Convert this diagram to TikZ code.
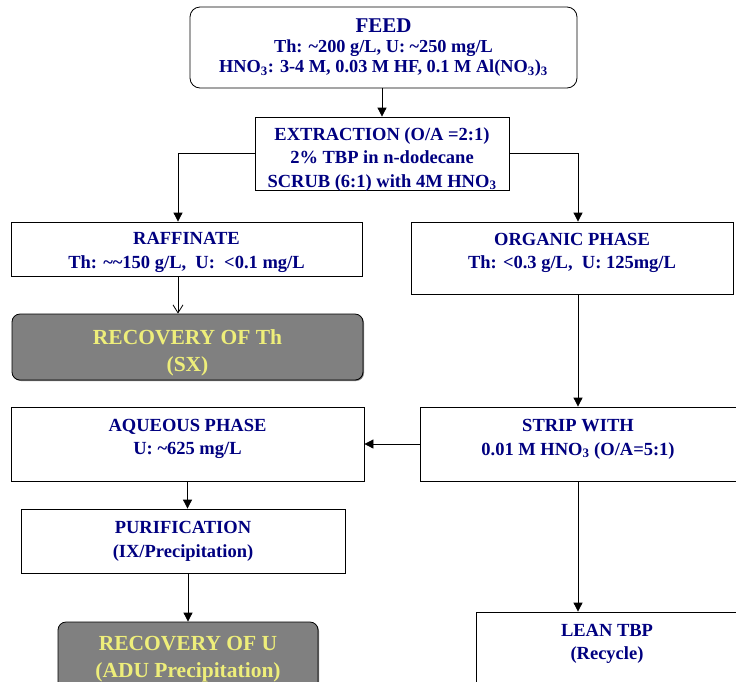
\documentclass[tikz,border=0pt]{standalone}
\usepackage{fontspec}
\setmainfont{Liberation Serif}
\usetikzlibrary{arrows.meta,shadows}
\definecolor{navy}{RGB}{0,0,128}
\definecolor{darkgrey}{RGB}{128,128,128}
\definecolor{paleyellow}{RGB}{238,238,122}

\begin{document}
\begin{tikzpicture}[x=1pt,y=-1pt,>={Triangle[length=9pt,width=9pt]},line width=0.8pt]

  \tikzstyle{box}=[rectangle,draw=black,fill=white,text=navy,align=center,inner sep=0pt,
                   font=\bfseries\fontsize{18.5}{23.5}\selectfont]
  \tikzstyle{round box}=[box,rounded corners=10pt]
  \tikzstyle{dark box}=[box,rounded corners=8pt,fill=darkgrey,
                        drop shadow={shadow xshift=1pt,shadow yshift=-1pt,fill=black}]
  \tikzstyle{top text}=[text=navy,align=center,anchor=center,inner sep=0pt,
                        font=\bfseries\fontsize{18.5}{23.5}\selectfont]
  \tikzstyle{dark text}=[top text,text=paleyellow,font=\bfseries\fontsize{21.5}{26.5}\selectfont]
  \tikzstyle{barb}=[-{Straight Barb[length=8pt,width=10pt]}]

  \useasboundingbox (0,0) rectangle (736,681);

  % feed and extraction
  \node [round box,minimum width=387pt,minimum height=81pt,
         font=\bfseries\fontsize{18.3}{20}\selectfont]
        (feed) at (383.5,47.5)
        {{\fontsize{21}{20}\selectfont FEED}\\
         Th: \textasciitilde200 g/L, U: \textasciitilde250 mg/L\\
         HNO\textsubscript{3}: 3-4 M, 0.03 M HF, 0.1 M Al(NO\textsubscript{3})\textsubscript{3}};
  \node [box,minimum width=254pt,minimum height=73pt,
         label={[top text,yshift=-42.5pt]north:{EXTRACTION (O/A =2:1)\\
           2\% TBP in n-dodecane\\
           SCRUB (6:1) with 4M HNO\textsubscript{3}}}]
        (extract) at (382,153.5) {};

  % thorium side
  \node [box,minimum width=351pt,minimum height=54pt,
         label={[top text,yshift=-31pt]north:{RAFFINATE\\
           Th: \textasciitilde\textasciitilde150 g/L,\ \ U:\ \ <0.1 mg/L}}]
        (raff) at (186.5,249) {};
  \node [dark box,minimum width=351pt,minimum height=66pt,
         label={[dark text,yshift=-39pt]north:{RECOVERY OF Th\\ (SX)}}]
        (recth) at (187.5,347) {};

  % organic and strip
  \node [box,minimum width=322pt,minimum height=72pt,
         label={[top text,yshift=-31.5pt]north:{ORGANIC PHASE\\ Th: <0.3 g/L,\ \ U: 125mg/L}}]
        (organic) at (572,258) {};
  \node [box,minimum width=316pt,minimum height=74pt,
         label={[top text,yshift=-32.5pt]north:{STRIP WITH\\ 0.01 M HNO\textsubscript{3} (O/A=5:1)}}]
        (strip) at (578,444) {};
  \node [box,minimum width=353pt,minimum height=74pt,
         label={[top text,yshift=-32.5pt]north:{AQUEOUS PHASE\\ U: \textasciitilde625 mg/L}}]
        (aqueous) at (187.5,444) {};

  % uranium side
  \node [box,minimum width=324pt,minimum height=64pt,
         label={[top text,yshift=-32.5pt]north:{PURIFICATION\\ (IX/Precipitation)}}]
        (purif) at (183,541) {};
  \node [dark box,minimum width=260pt,minimum height=69pt,
         label={[dark text,yshift=-37.5pt]north:{RECOVERY OF U\\ (ADU Precipitation)}}]
        (recu) at (188,656.5) {};
  \node [box,minimum width=262pt,minimum height=80pt,
         label={[top text,yshift=-32.5pt]north:{LEAN TBP\\ (Recycle)}}]
        (lean) at (607,652) {};

  % connectors
  \draw [->] (feed.south -| extract.north) -- (extract.north);
  \draw [->] (extract.west) -| ([xshift=-8.5pt]raff.north);
  \draw [->] (extract.east) -| (organic.north -| strip.north);
  \draw [barb] ([xshift=-8.5pt]raff.south) -- ([xshift=-8.5pt]raff.south |- recth.north);
  \draw [->] (organic.south -| strip.north) -- (strip.north);
  \draw [->] (strip.west) -- (aqueous.east);
  \draw [->] (aqueous.south) -- (aqueous.south |- purif.north);
  \draw [->] (recu.north |- purif.south) -- (recu.north);
  \draw [->] (strip.south) -- (strip.south |- lean.north);
\end{tikzpicture}
\end{document}
